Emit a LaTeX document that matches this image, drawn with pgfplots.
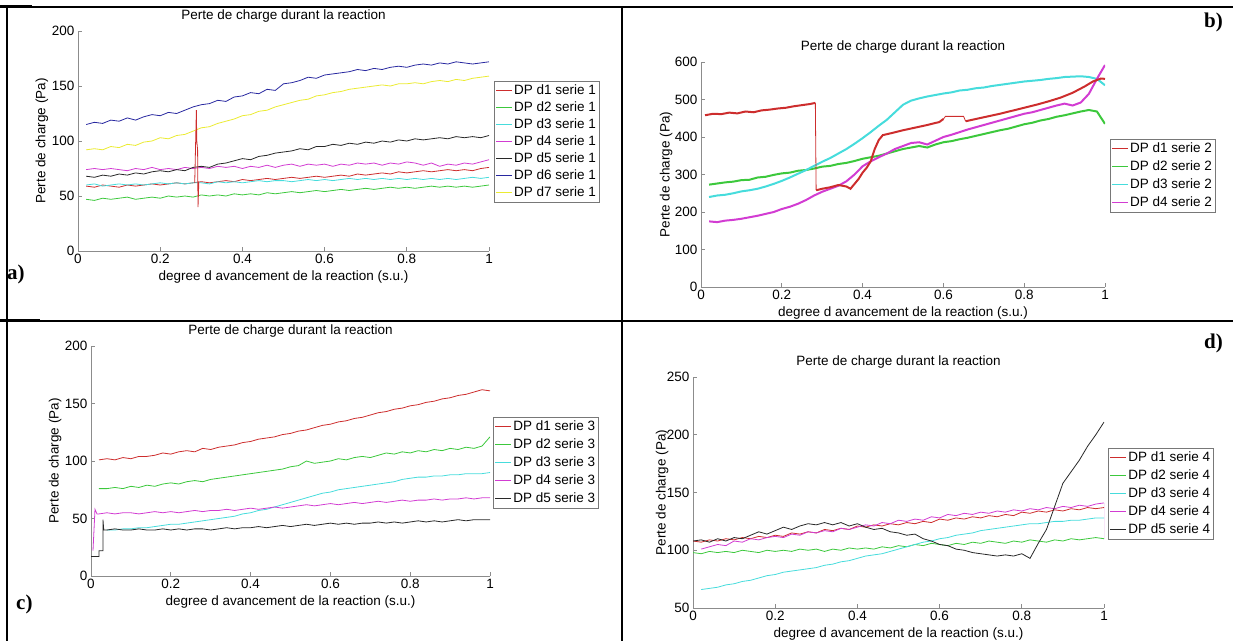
\documentclass[border=0pt]{standalone}
\usepackage{pgfplots}
\pgfplotsset{compat=1.18}
\usepackage{pgfplotstable}
\usepackage{fontspec}
\setmainfont{Liberation Sans}
\newfontfamily\serifb{Liberation Serif}
\definecolor{cA}{RGB}{205,45,45}
\definecolor{cB}{RGB}{60,200,60}
\definecolor{cC}{RGB}{70,220,220}
\definecolor{cD}{RGB}{210,60,210}
\definecolor{cE}{RGB}{40,40,40}
\definecolor{cF}{RGB}{40,40,160}
\definecolor{cG}{RGB}{235,235,50}
\definecolor{axgray}{RGB}{140,140,140}
\definecolor{leggray}{RGB}{120,120,120}

\pgfplotstableread{
x d1 d2 d3 d4 d5 d6 d7
0.02 59 47 60 74 68 115 92
0.04 58 46 61 75 67 117 93
0.06 60 48 59 74 69 116 92
0.08 59 47 60 75 68 119 95
0.10 58 48 61 74 70 118 94
0.12 60 49 60 73 69 121 97
0.14 59 47 61 75 71 119 96
0.16 60 48 60 74 70 122 99
0.18 61 49 61 76 72 124 100
0.20 60 48 62 74 73 123 103
0.22 61 50 61 75 72 126 102
0.24 62 49 62 74 74 125 105
0.26 61 50 61 76 73 128 106
0.28 62 49 62 75 76 131 109
0.30 63 51 62 76 77 133 112
0.32 62 50 61 75 76 134 113
0.34 63 51 63 77 79 137 116
0.36 64 50 62 76 80 136 118
0.38 63 52 63 77 82 140 120
0.40 65 51 62 75 84 141 123
0.42 64 52 63 77 83 144 124
0.44 65 51 64 76 86 143 127
0.46 66 53 63 78 87 147 128
0.48 65 52 64 76 89 146 131
0.50 66 53 64 78 90 152 133
0.52 67 54 63 79 91 153 135
0.54 66 53 64 77 93 155 137
0.56 67 54 65 79 92 158 138
0.58 68 55 64 78 95 157 141
0.60 67 54 65 79 95 160 142
0.62 68 55 64 77 97 161 144
0.64 69 56 65 79 96 162 145
0.66 68 55 66 78 98 163 147
0.68 70 56 65 80 97 165 148
0.70 69 57 66 79 99 164 149
0.72 70 56 65 80 98 166 150
0.74 71 57 66 78 100 165 151
0.76 70 58 65 80 99 167 150
0.78 72 57 66 79 101 168 152
0.80 71 58 65 81 100 167 152
0.82 72 57 66 80 102 169 153
0.84 73 58 65 78 101 170 152
0.86 72 59 66 80 102 169 154
0.88 73 58 65 77 103 171 155
0.90 74 59 66 79 102 170 154
0.92 73 58 65 78 104 172 156
0.94 74 59 66 80 103 171 155
0.96 73 58 67 79 104 170 157
0.98 75 59 66 81 103 171 158
1.00 76 60 67 83 105 172 159
}\tabA

\pgfplotstableread{
x d2 d3 d4
0.02 273 240 175
0.04 276 244 173
0.06 279 246 177
0.08 281 250 179
0.10 285 255 182
0.12 286 258 186
0.14 292 262 190
0.16 294 268 195
0.18 299 275 200
0.20 303 283 208
0.22 305 292 214
0.24 310 302 222
0.26 312 312 232
0.28 316 323 244
0.30 321 334 254
0.32 323 344 262
0.34 328 356 270
0.36 331 368 282
0.38 336 382 300
0.40 342 397 322
0.42 346 413 335
0.44 350 430 346
0.46 356 446 356
0.48 362 466 368
0.50 368 486 376
0.52 372 497 384
0.54 376 503 386
0.56 372 508 380
0.58 380 512 390
0.60 386 516 400
0.62 389 519 406
0.64 394 524 413
0.66 398 526 420
0.68 403 530 426
0.70 408 532 432
0.72 413 536 438
0.74 418 539 444
0.76 422 542 450
0.78 428 545 456
0.80 434 548 462
0.82 438 550 466
0.84 444 552 472
0.86 448 555 478
0.88 454 557 484
0.90 458 560 489
0.92 463 561 484
0.94 468 562 492
0.96 472 560 515
0.98 468 555 555
1.00 435 538 592
}\tabB

\pgfplotstableread{
x d1 d2 d3 d4 d5
0.02 101 76 nan 54 nan
0.04 102 76 40 55 40
0.06 101 77 40 54 41
0.08 103 76 41 55 40
0.10 102 78 41 55 40
0.12 104 77 42 54 41
0.14 104 79 42 55 40
0.16 105 78 43 56 40
0.18 107 80 44 55 41
0.20 106 81 45 56 40
0.22 108 80 45 55 41
0.24 109 82 46 56 40
0.26 108 83 47 57 41
0.28 111 82 48 56 41
0.30 110 84 49 57 40
0.32 112 85 50 57 41
0.34 113 86 51 58 42
0.36 114 87 52 57 41
0.38 116 88 54 58 42
0.40 117 89 55 59 42
0.42 119 90 57 58 43
0.44 120 91 58 59 42
0.46 121 92 60 60 43
0.48 123 93 62 59 44
0.50 124 95 64 60 43
0.52 126 96 66 61 44
0.54 127 100 68 62 45
0.56 129 98 70 61 44
0.58 131 99 72 62 45
0.60 132 100 73 63 46
0.62 134 102 75 62 45
0.64 135 101 76 63 46
0.66 137 103 77 64 45
0.68 138 104 78 63 46
0.70 140 103 79 64 46
0.72 142 105 80 65 47
0.74 143 107 81 64 46
0.76 145 106 82 65 47
0.78 146 108 84 66 46
0.80 148 107 85 65 47
0.82 149 109 86 66 48
0.84 151 108 86 66 47
0.86 152 110 87 67 48
0.88 154 109 87 66 47
0.90 155 111 88 67 48
0.92 157 110 88 67 49
0.94 158 112 89 68 48
0.96 160 111 89 67 49
0.98 162 113 89 68 49
1.00 161 121 90 68 49
}\tabC

\pgfplotstableread{
x d1 d2 d3 d4 d5
0.00 108 98 nan nan 108
0.02 107 97 66 101 109
0.04 109 99 67 103 107
0.06 108 98 68 105 110
0.08 110 99 70 104 108
0.10 109 98 71 108 111
0.12 111 100 73 107 110
0.14 110 99 74 110 113
0.16 112 98 76 109 116
0.18 111 100 78 111 114
0.20 113 99 79 112 117
0.22 112 100 81 111 120
0.24 115 99 82 114 118
0.26 114 101 83 113 121
0.28 116 100 84 116 123
0.30 115 101 85 115 122
0.32 118 99 87 117 124
0.34 117 101 88 116 122
0.36 119 100 90 119 124
0.38 118 102 91 118 121
0.40 121 101 93 120 123
0.42 120 102 95 122 120
0.44 122 101 96 121 118
0.46 121 103 97 124 119
0.48 123 102 99 123 116
0.50 122 104 101 126 115
0.52 124 103 103 125 113
0.54 123 105 105 127 114
0.56 125 104 107 126 110
0.58 124 106 108 129 108
0.60 127 105 110 128 105
0.62 126 104 111 131 104
0.64 128 106 113 130 101
0.66 127 105 114 132 100
0.68 129 107 115 131 98
0.70 128 106 117 133 97
0.72 130 108 118 132 96
0.74 129 107 119 134 95
0.76 131 106 120 133 96
0.78 130 108 121 135 95
0.80 133 107 122 134 97
0.82 132 109 123 136 93
0.84 134 108 123 135 106
0.86 133 107 124 137 118
0.88 135 109 125 136 138
0.90 134 108 125 138 158
0.92 136 110 126 137 168
0.94 135 109 126 139 178
0.96 137 110 127 138 190
0.98 136 111 128 140 200
1.00 137 110 128 141 211
}\tabD

\pgfplotsset{
  panel/.style={
    scale only axis,
    xmin=0, xmax=1,
    axis x line*=bottom, axis y line*=left,
    axis line style={axgray, line width=0.8pt},
    every tick/.style={axgray, line width=0.8pt},
    major tick length=4pt,
    tick align=inside,
    xtick={0,0.2,0.4,0.6,0.8,1},
    /pgf/number format/assume math mode=true,
    title={Perte de charge durant la reaction},
    every axis title/.style={at={(0.5,1)}, anchor=center, yshift=15pt, inner sep=0pt},
    xlabel={degree d avancement de la reaction (s.u.)},
    xlabel style={at={(axis description cs:0.5,0)}, anchor=center, yshift=-26pt, inner sep=0pt},
    ylabel={Perte de charge (Pa)},
    legend cell align=left,
    legend image code/.code={\draw[##1, line width=0.9pt] (0pt,0pt) -- (16pt,0pt);},
    legend style={anchor=north west, draw=leggray, line width=0.6pt, inner sep=1.5pt,
      row sep=2pt,
      nodes={inner sep=1.5pt, text height=10pt, text depth=3pt}},
    every axis plot/.append style={line width=0.8pt},
  }
}

\begin{document}
\begin{tikzpicture}[font=\fontsize{13.5}{16}\selectfont]
\path[use as bounding box] (0pt,0pt) rectangle (1233pt,-641pt);

% ---------------- a)
\begin{axis}[panel, at={(78pt,-251pt)}, anchor=south west, width=411pt, height=220pt,
  ymin=0, ymax=200, ytick={0,50,100,150,200},
  ylabel style={at={(axis description cs:-0.0876,0.5)}, anchor=center},
  legend style={at={(1.012,0.773)}, row sep=1pt}]
\addplot[color=cA] table[x=x,y=d1]{\tabA};
\addplot[color=cB] table[x=x,y=d2]{\tabA};
\addplot[color=cC] table[x=x,y=d3]{\tabA};
\addplot[color=cD] table[x=x,y=d4]{\tabA};
\addplot[color=cE] table[x=x,y=d5]{\tabA};
\addplot[color=cF] table[x=x,y=d6]{\tabA};
\addplot[color=cG] table[x=x,y=d7]{\tabA};
\addplot[color=cA, forget plot] coordinates {(0.284,62)(0.288,128)(0.289,100)(0.291,92)(0.292,40)(0.294,63)};
\legend{DP d1 serie 1,DP d2 serie 1,DP d3 serie 1,DP d4 serie 1,DP d5 serie 1,DP d6 serie 1,DP d7 serie 1}
\end{axis}

% ---------------- b)
\begin{axis}[panel, at={(701pt,-287pt)}, anchor=south west, width=404pt, height=225pt,
  ymin=0, ymax=600, ytick={0,100,200,300,400,500,600},
  ylabel style={at={(axis description cs:-0.0866,0.5)}, anchor=center},
  every axis plot/.append style={line width=2pt},
  legend style={at={(1.012,0.658)}}]
\addplot[color=cA] coordinates {(0.01,458)(0.03,462)(0.05,461)(0.07,465)(0.09,463)(0.11,468)(0.13,466)(0.15,471)(0.17,473)(0.19,476)(0.21,478)(0.23,482)(0.25,485)(0.27,488)(0.283,491)};
\addplot[color=cB] table[x=x,y=d2]{\tabB};
\addplot[color=cC] table[x=x,y=d3]{\tabB};
\addplot[color=cD] table[x=x,y=d4]{\tabB};
\addplot[color=cA, forget plot, line width=0.8pt] coordinates {(0.283,491)(0.285,258)};
\addplot[color=cA, forget plot] coordinates {(0.285,258)(0.30,262)(0.32,266)(0.34,272)(0.36,268)(0.37,262)(0.38,275)(0.39,288)(0.40,305)(0.41,318)(0.42,335)(0.43,368)(0.44,392)(0.45,405)(0.47,410)(0.50,418)(0.53,425)(0.56,432)(0.59,440)(0.60,448)};
\addplot[color=cA, forget plot, line width=0.8pt] coordinates {(0.60,448)(0.605,455)(0.65,455)(0.655,442)};
\addplot[color=cA, forget plot] coordinates {(0.655,442)(0.68,448)(0.71,455)(0.74,462)(0.77,470)(0.80,478)(0.83,486)(0.86,495)(0.89,505)(0.92,518)(0.95,535)(0.97,548)(0.99,556)(1.0,555)};
\legend{DP d1 serie 2,DP d2 serie 2,DP d3 serie 2,DP d4 serie 2}
\end{axis}

% ---------------- c)
\begin{axis}[panel, at={(91pt,-576pt)}, anchor=south west, width=399pt, height=230pt,
  ymin=0, ymax=200, ytick={0,50,100,150,200},
  ylabel style={at={(axis description cs:-0.09,0.5)}, anchor=center},
  legend style={at={(1.008,0.691)}}]
\addplot[color=cA] table[x=x,y=d1]{\tabC};
\addplot[color=cB] table[x=x,y=d2]{\tabC};
\addplot[color=cC] table[x=x,y=d3]{\tabC};
\addplot[color=cD] table[x=x,y=d4]{\tabC};
\addplot[color=cE] table[x=x,y=d5]{\tabC};
\addplot[color=cD, forget plot] coordinates {(0.005,22)(0.01,58)(0.015,54)(0.02,54)};
\addplot[color=cE, forget plot] coordinates {(0.0,17)(0.02,17)(0.02,22)(0.03,22)(0.03,49)(0.032,40)(0.04,40)};
\legend{DP d1 serie 3,DP d2 serie 3,DP d3 serie 3,DP d4 serie 3,DP d5 serie 3}
\end{axis}

% ---------------- d)
\begin{axis}[panel, at={(693pt,-608pt)}, anchor=south west, width=411pt, height=231pt,
  ymin=50, ymax=250, ytick={50,100,150,200,250},
  ylabel style={at={(axis description cs:-0.075,0.5)}, anchor=center},
  legend style={at={(1.01,0.693)}}]
\addplot[color=cA] table[x=x,y=d1]{\tabD};
\addplot[color=cB] table[x=x,y=d2]{\tabD};
\addplot[color=cC] table[x=x,y=d3]{\tabD};
\addplot[color=cD] table[x=x,y=d4]{\tabD};
\addplot[color=cE] table[x=x,y=d5]{\tabD};
\addplot[color=cD, forget plot] coordinates {(1.0,141)(1.0,110)};
\legend{DP d1 serie 4,DP d2 serie 4,DP d3 serie 4,DP d4 serie 4,DP d5 serie 4}
\end{axis}

% table borders
\draw[line width=1.6pt] (0pt,-7pt) -- (1233pt,-7pt);
\draw[line width=2.4pt] (0pt,-6pt) -- (32pt,-6pt);
\draw[line width=1.6pt] (0pt,-321pt) -- (1233pt,-321pt);
\draw[line width=2.4pt] (0pt,-320pt) -- (40pt,-320pt);
\draw[line width=2pt] (7pt,-7pt) -- (7pt,-641pt);
\draw[line width=2pt] (622pt,-7pt) -- (622pt,-641pt);

% panel letters
\node[anchor=west, inner sep=0pt, font=\serifb\bfseries\fontsize{21}{24}\selectfont] at (7pt,-274pt) {a)};
\node[anchor=east, inner sep=0pt, font=\serifb\bfseries\fontsize{21}{24}\selectfont] at (1223pt,-22pt) {b)};
\node[anchor=west, inner sep=0pt, font=\serifb\bfseries\fontsize{21}{24}\selectfont] at (16pt,-604pt) {c)};
\node[anchor=east, inner sep=0pt, font=\serifb\bfseries\fontsize{21}{24}\selectfont] at (1223pt,-343pt) {d)};
\end{tikzpicture}
\end{document}
